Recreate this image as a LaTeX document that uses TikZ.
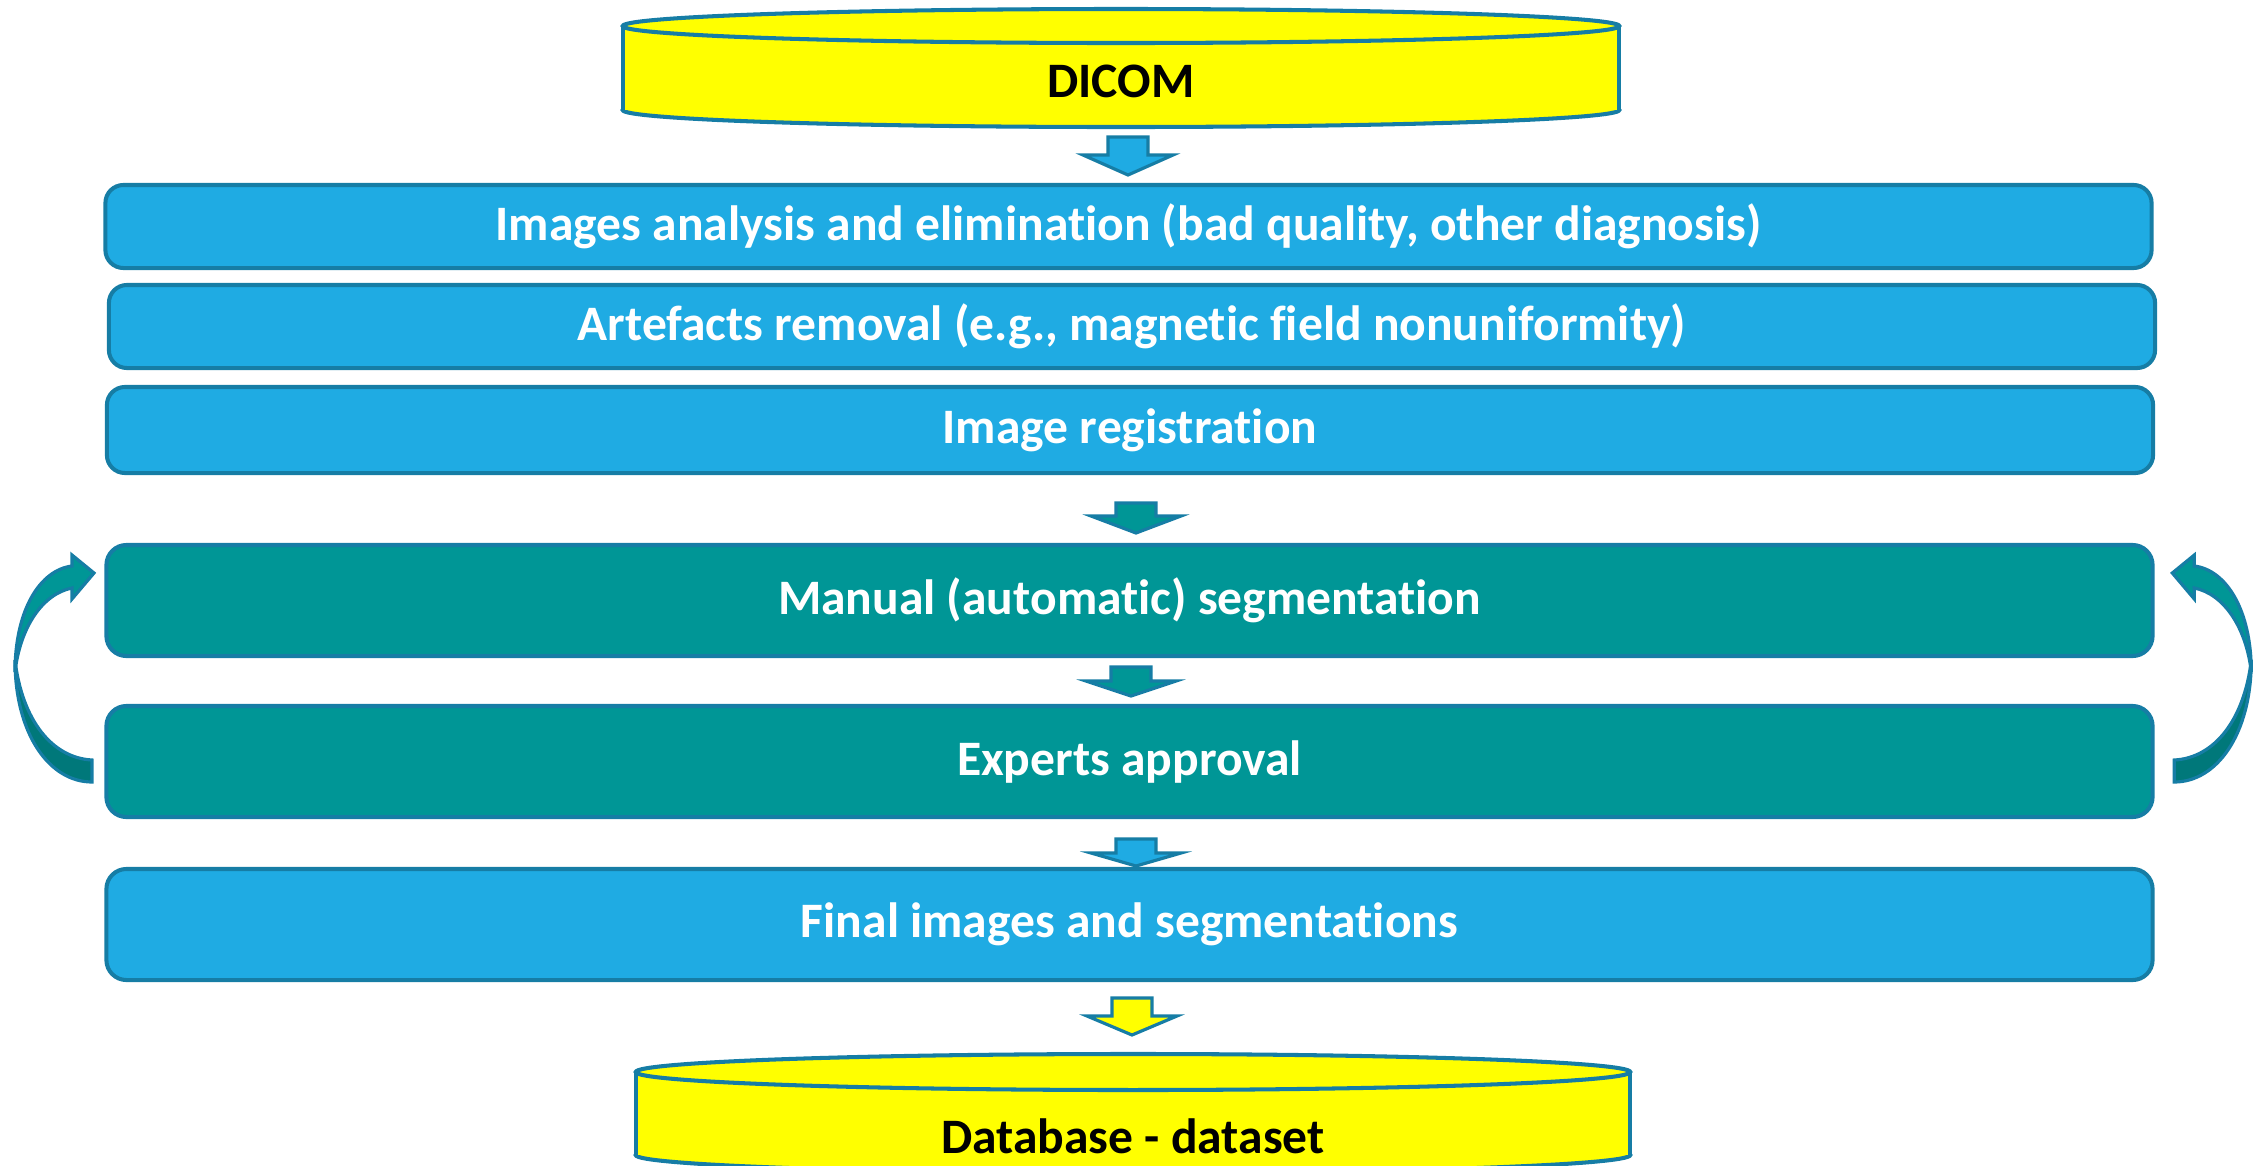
\documentclass[tikz,border=0pt]{standalone}
\usepackage{fontspec}
\setmainfont{Carlito}[Ligatures={NoCommon}]
\definecolor{skyb}{RGB}{31,171,227}
\definecolor{tealc}{RGB}{0,150,150}
\definecolor{darkteal}{RGB}{0,120,122}
\definecolor{edge}{RGB}{22,125,165}
\definecolor{drumfill}{RGB}{255,255,0}

% downward block arrow: fill, centre x, stem top, wing line, tip
\newcommand\downblock[5]{%
  \draw[flow, fill=#1] (#2-20,#3) -- (#2+20,#3) -- (#2+20,#4) -- (#2+45,#4)
    -- (#2,#5) -- (#2-45,#4) -- (#2-20,#4) -- cycle;}

% curved feedback arrow on the left side (mirrored for the right side)
\newcommand\loopback{%
  \draw[flow, fill=darkteal] (15,660) .. controls (15,735) and (50,782) .. (92,782)
    -- (92,760) .. controls (52,758) and (22,720) .. (15,660) -- cycle;
  \draw[flow, fill=tealc] (15,672) .. controls (15,610) and (40,570) .. (72,566)
    -- (72,555) -- (94,573) -- (72,599) -- (72,588)
    .. controls (42,594) and (20,628) .. (15,672) -- cycle;}

\begin{document}
\begin{tikzpicture}[x=0.01cm, y=-0.01cm,
  every node/.style={font=\fontsize{14.1pt}{16pt}\selectfont\bfseries},
  stage/.style={draw=edge, line width=1.15pt, rounded corners=0.18cm,
    minimum width=20.45cm, minimum height=0.83cm, inner sep=0pt, text=white},
  bluestage/.style={stage, fill=skyb},
  tealstage/.style={stage, fill=tealc, rounded corners=0.2cm, minimum height=1.11cm},
  flow/.style={draw=edge, line width=0.9pt, line join=miter},
  drumline/.style={draw=edge, fill=drumfill, line width=1.15pt}]

\useasboundingbox (0,0) rectangle (2265,1166);
\clip (0,0) rectangle (2265,1166);

% source cylinder
\filldraw[drumline] (1121,110) ellipse [x radius=4.98cm, y radius=0.17cm];
\fill[drumfill] (623,26) rectangle (1619,110);
\draw[drumline] (623,26) -- (623,110) (1619,26) -- (1619,110);
\filldraw[drumline] (1121,26) ellipse [x radius=4.98cm, y radius=0.17cm];
\node (dicom) at (1121,81) {DICOM};

% processing stages
\node[bluestage] (b1) at (1128.5,226.5) {Images analysis and elimination (bad quality, other diagnosis)};
\node[bluestage] (b2) at (1132,326.5) {Artefacts removal (e.g., magnetic field nonuniformity)};
\node[bluestage, minimum height=0.86cm] (b3) at (1130,430) {Image registration};
\node[tealstage] (b4) at (1129.5,600.5) {Manual (automatic) segmentation};
\node[tealstage] (b5) at (1129.5,761.5) {Experts approval};
\node[bluestage, rounded corners=0.2cm, minimum height=1.11cm] (b6) at (1129.5,924.5) {Final images and segmentations};

% flow arrows
\downblock{skyb}{1128}{137}{155}{175}
\downblock{tealc}{1136}{503}{516}{533}
\downblock{tealc}{1131}{667}{681}{696}
\downblock{skyb}{1136}{839}{853}{866}
\downblock{drumfill}{1132}{998}{1016}{1035}

% feedback loops between segmentation and approval
\loopback
\begin{scope}[xshift=22.65cm, xscale=-1]
  \loopback
\end{scope}

% target cylinder
\filldraw[drumline] (1133,1155) ellipse [x radius=4.97cm, y radius=0.18cm];
\fill[drumfill] (636,1072) rectangle (1630,1155);
\draw[drumline] (636,1072) -- (636,1155) (1630,1072) -- (1630,1155);
\filldraw[drumline] (1133,1072) ellipse [x radius=4.97cm, y radius=0.18cm];
\node (db) at (1133,1136) {Database - dataset};

\end{tikzpicture}
\end{document}
